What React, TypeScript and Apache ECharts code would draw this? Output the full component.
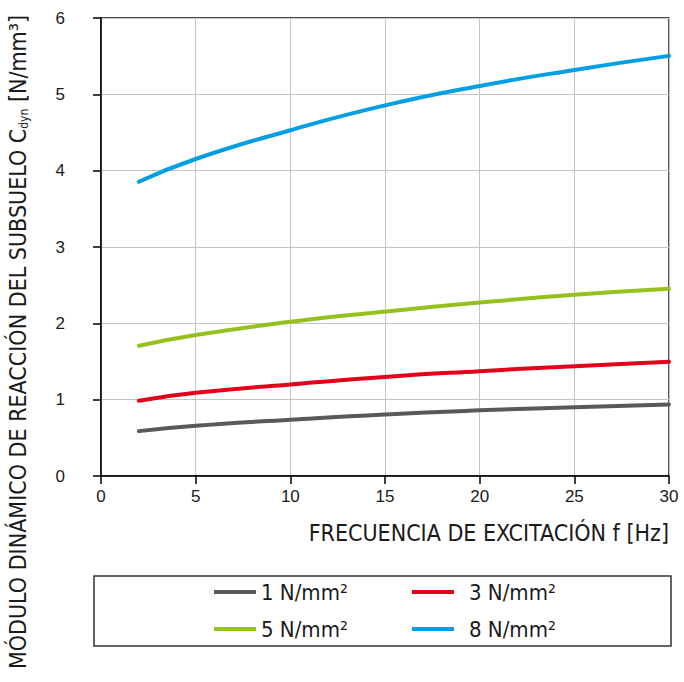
import React, { useEffect, useRef } from 'react';
import * as echarts from 'echarts';

const freq = [2, 5, 10, 15, 20, 25, 30];
const s1 = [0.588, 0.658, 0.737, 0.807, 0.86, 0.9, 0.937];
const s3 = [0.987, 1.09, 1.2, 1.298, 1.373, 1.439, 1.496];
const s5 = [1.706, 1.847, 2.02, 2.154, 2.272, 2.373, 2.452];
const s8 = [3.855, 4.153, 4.53, 4.855, 5.11, 5.32, 5.504];
const seriesNames = ['1 N/mm²', '3 N/mm²', '5 N/mm²', '8 N/mm²'];
const seriesColors = ['#595959', '#e2001a', '#95c11f', '#009fe3'];
const xTitle = 'FRECUENCIA DE EXCITACIÓN f [Hz]';
const yTitleMain = 'MÓDULO DINÁMICO DE REACCIÓN DEL SUBSUELO C';
const yTitleSub = 'dyn';
const yTitleUnit = ' [N/mm³]';

const COND = '"Liberation Sans Narrow", "DejaVu Sans Condensed", "Roboto Condensed", "Arial Narrow", sans-serif';
const REG = '"Liberation Sans", Arial, sans-serif';

export default function App() {
  const ref = useRef<HTMLDivElement>(null);
  useEffect(() => {
    if (!ref.current) return;
    const chart = echarts.init(ref.current, undefined, { renderer: 'svg' });
    const allData = [s1, s3, s5, s8];
    chart.setOption({
      animation: false,
      backgroundColor: '#ffffff',
      grid: {
        left: 101, right: 15, top: 18, bottom: 206,
        show: true, borderColor: '#1a1a1a', borderWidth: 1.5, backgroundColor: 'transparent',
      },
      xAxis: {
        type: 'value', min: 0, max: 30, interval: 5,
        axisLine: { show: true, lineStyle: { color: '#000', width: 1.5 } },
        axisTick: { show: true, length: 8, inside: false, lineStyle: { color: '#000', width: 1.5 } },
        axisLabel: { margin: 12, fontSize: 17, color: '#1a1a1a', fontFamily: REG },
        splitLine: { show: true, lineStyle: { color: '#c4c4c4', width: 1 } },
      },
      yAxis: {
        type: 'value', min: 0, max: 6, interval: 1,
        axisLine: { show: true, lineStyle: { color: '#000', width: 1.5 } },
        axisTick: { show: true, length: 8, inside: false, lineStyle: { color: '#000', width: 1.5 } },
        axisLabel: { margin: 36, fontSize: 17, color: '#1a1a1a', fontFamily: REG },
        splitLine: { show: true, lineStyle: { color: '#c4c4c4', width: 1 } },
      },
      legend: [
        {
          data: [seriesNames[0], seriesNames[2]],
          orient: 'vertical', left: 214, top: 579, padding: 0, itemGap: 11,
          icon: 'rect', itemWidth: 42, itemHeight: 4,
          textStyle: { fontSize: 22, fontFamily: COND, color: '#1a1a1a', lineHeight: 26 },
        },
        {
          data: [seriesNames[1], seriesNames[3]],
          orient: 'vertical', left: 412, top: 579, padding: 0, itemGap: 11,
          icon: 'rect', itemWidth: 42, itemHeight: 4,
          formatter: (name: string) => `{p|}{t|${name}}`,
          textStyle: {
            fontSize: 22, fontFamily: COND, color: '#1a1a1a', lineHeight: 26,
            rich: { p: { width: 10 }, t: { fontSize: 22, fontFamily: COND, color: '#1a1a1a', lineHeight: 26 } },
          },
        },
      ],
      graphic: [
        {
          type: 'rect', shape: { x: 94, y: 576, width: 577, height: 70 },
          style: { fill: 'none', stroke: '#333', lineWidth: 1.5 }, silent: true,
        },
        {
          type: 'text', x: 669, y: 533,
          style: { text: xTitle, align: 'right', verticalAlign: 'middle', fontSize: 23, fontFamily: COND, fill: '#1a1a1a' },
        },
        {
          type: 'text', x: 18, y: 342, rotation: Math.PI / 2,
          style: {
            text: `{t|${yTitleMain}}{s|${yTitleSub}}{t|${yTitleUnit}}`,
            align: 'center', verticalAlign: 'middle',
            rich: {
              t: { fontSize: 23, fontFamily: COND, fill: '#1a1a1a', lineHeight: 26 },
              s: { fontSize: 12, fontFamily: COND, fill: '#1a1a1a', padding: [12, 0, 0, 0] },
            },
          },
        },
      ],
      series: allData.map((d, i) => ({
        name: seriesNames[i],
        type: 'line',
        data: freq.map((f, j) => [f, d[j]]),
        smooth: 0.5,
        showSymbol: false,
        symbol: 'none',
        lineStyle: { color: seriesColors[i], width: 4, cap: 'round' },
        itemStyle: { color: seriesColors[i] },
      })),
    });
    return () => chart.dispose();
  }, []);
  return <div ref={ref} style={{ width: 684, height: 682, position: 'absolute', left: 0, top: 0 }} />;
}
